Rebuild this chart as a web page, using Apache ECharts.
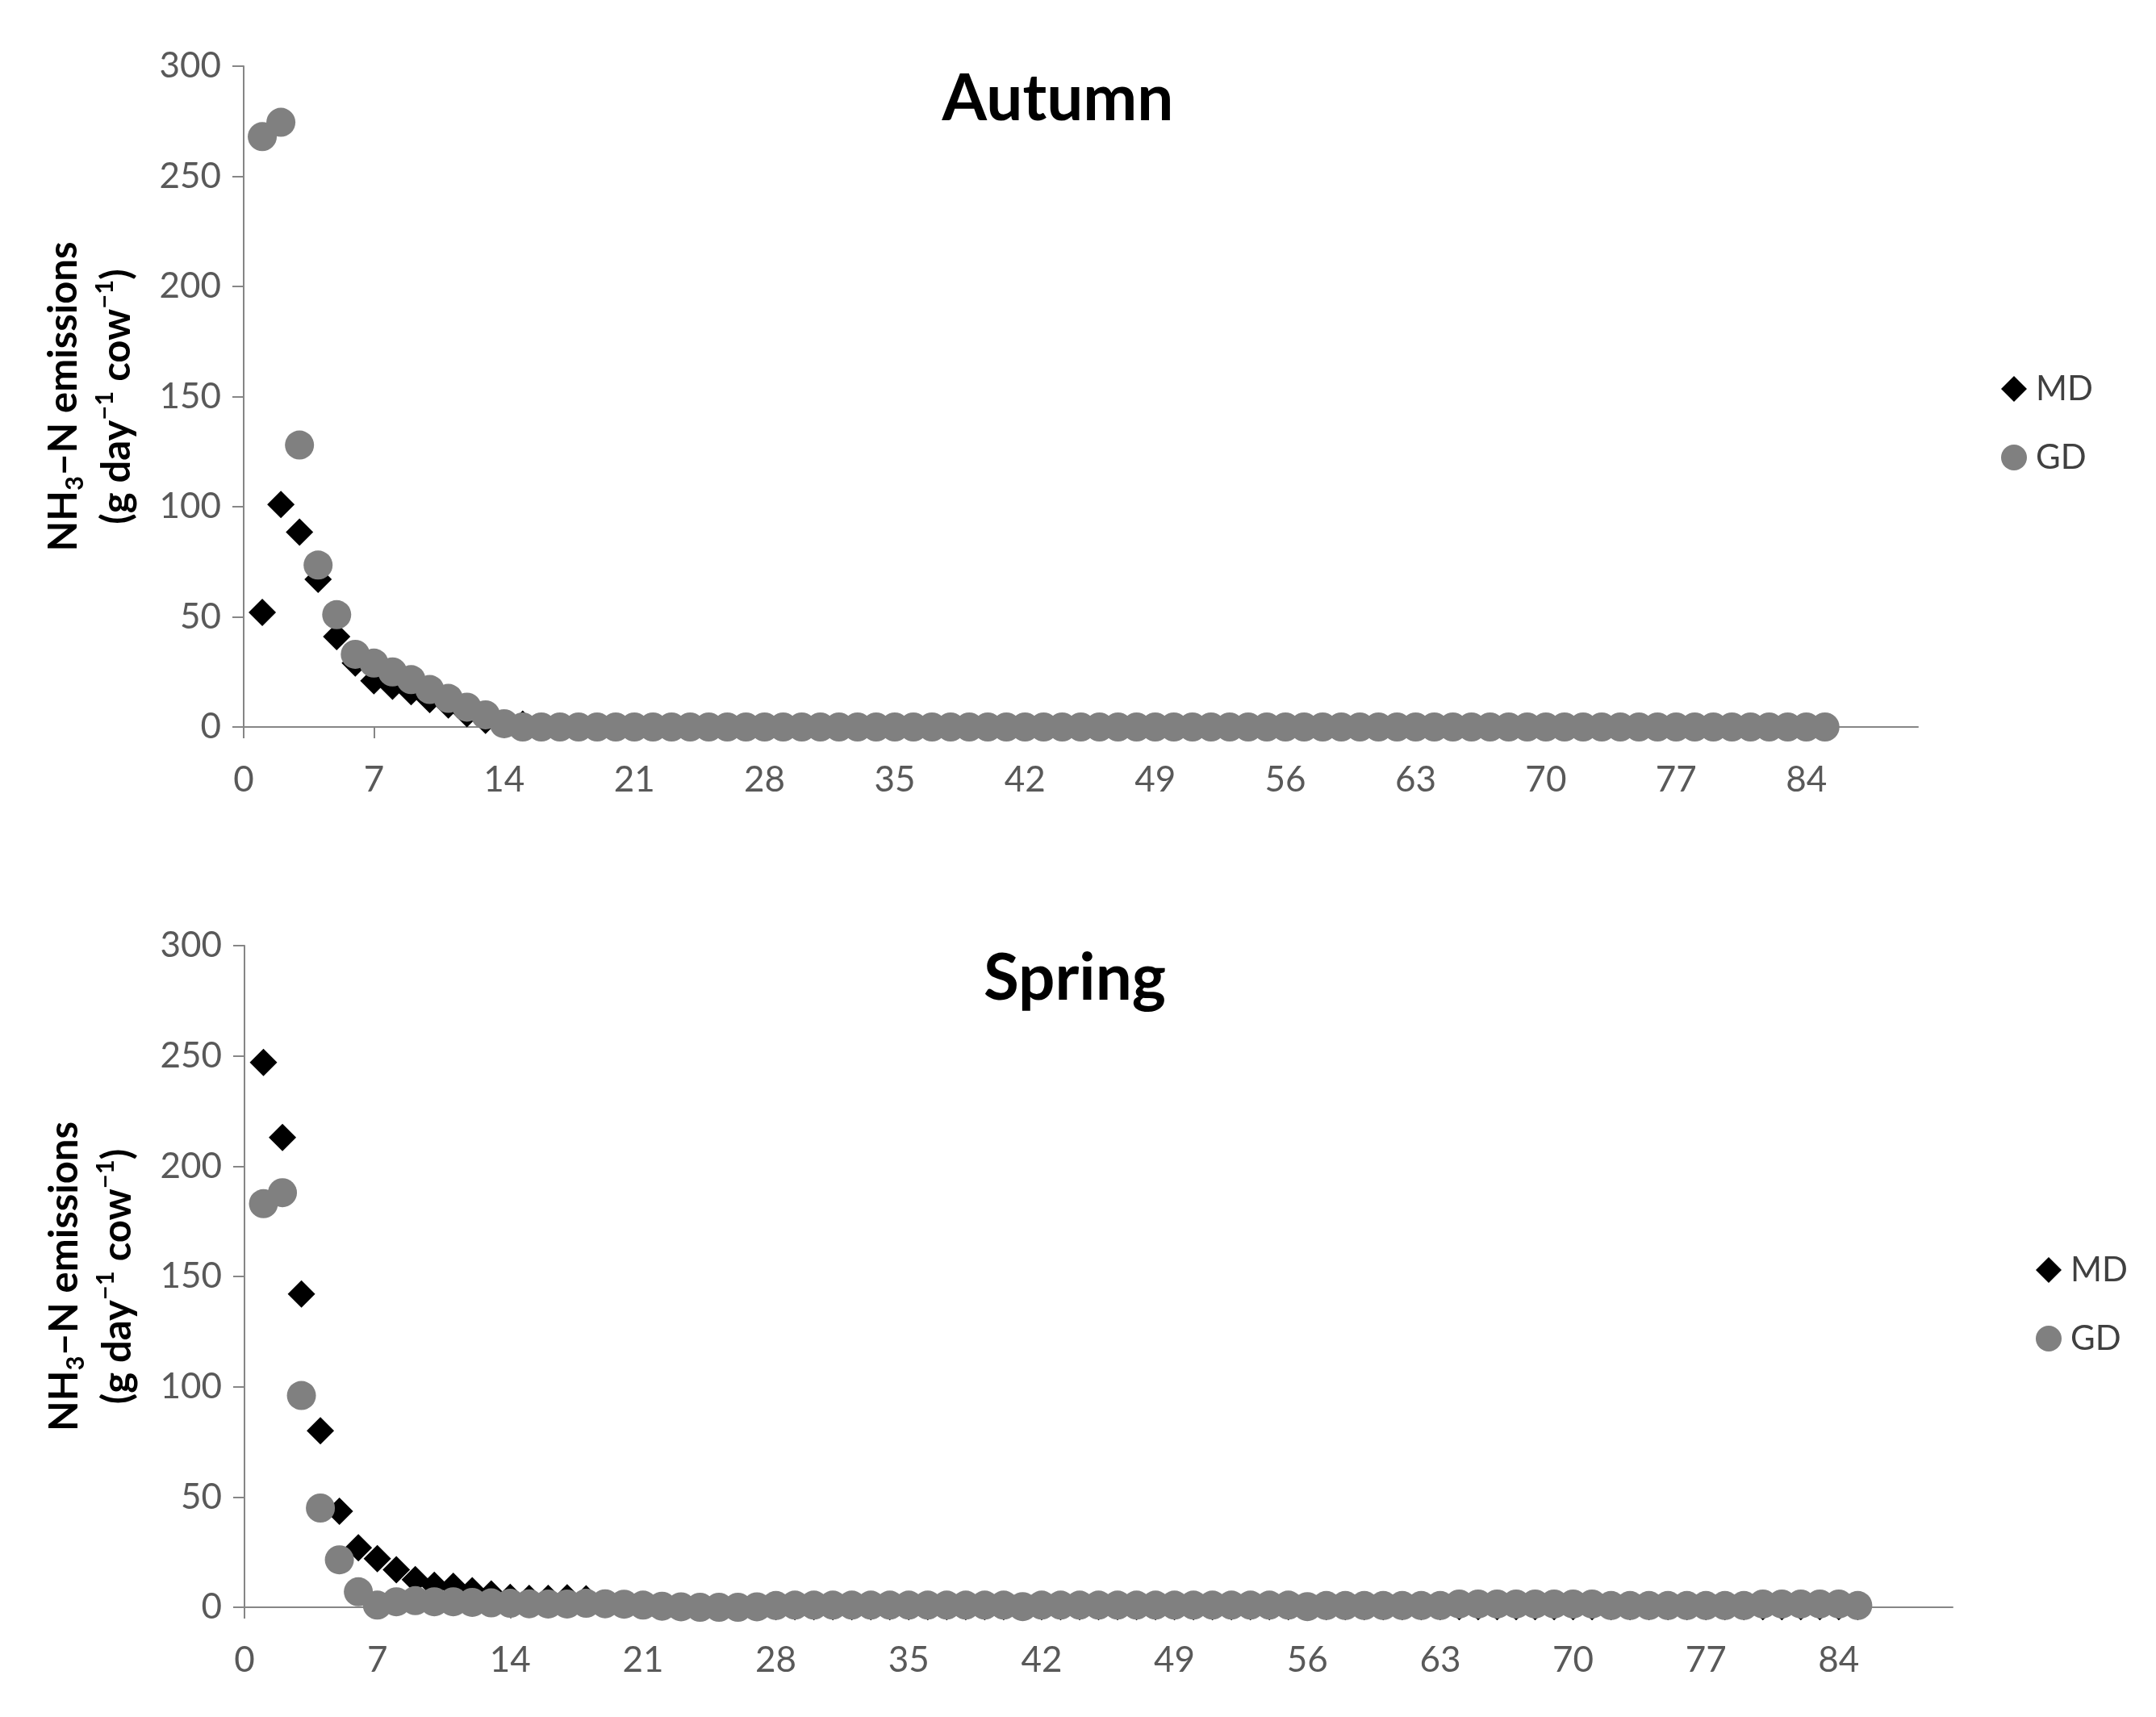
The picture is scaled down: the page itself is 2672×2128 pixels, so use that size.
<!DOCTYPE html>
<html>
<head>
<meta charset="utf-8">
<script src="https://cdn.jsdelivr.net/npm/echarts@6/dist/echarts.min.js"></script>
<style>
html,body{margin:0;padding:0;background:#fff;}
#chart{width:2672px;height:2128px;}
</style>
</head>
<body>
<div id="chart"></div>
<script>
// Day numbers (x)
const days = [
  1,2,3,4,5,6,7,8,9,10,
  11,12,13,14,15,16,17,18,19,20,
  21,22,23,24,25,26,27,28,29,30,
  31,32,33,34,35,36,37,38,39,40,
  41,42,43,44,45,46,47,48,49,50,
  51,52,53,54,55,56,57,58,59,60,
  61,62,63,64,65,66,67,68,69,70,
  71,72,73,74,75,76,77,78,79,80,
  81,82,83,84,85
];
const xTicks = [0,7,14,21,28,35,42,49,56,63,70,77,84];
const yTicks = [0,50,100,150,200,250,300];
const seriesNames = ['MD','GD'];
const panelTitles = ['Autumn','Spring'];

const autumnMD = [
  52,101,88.5,67,41,29,21,18.5,16,12.5,
  10,6,3,1.5,1.3,0,0,0,0,0,
  0,0,0,0,0,0,0,0,0,0,
  0,0,0,0,0,0,0,0,0,0,
  0,0,0,0,0,0,0,0,0,0,
  0,0,0,0,0,0,0,0,0,0,
  0,0,0,0,0,0,0,0,0,0,
  0,0,0,0,0,0,0,0,0,0,
  0,0,0,0,0
];
const autumnGD = [
  268,274.5,128,73.5,51,33,29,25,21.5,17,
  13,9,5.5,1.5,0,0,0,0,0,0,
  0,0,0,0,0,0,0,0,0,0,
  0,0,0,0,0,0,0,0,0,0,
  0,0,0,0,0,0,0,0,0,0,
  0,0,0,0,0,0,0,0,0,0,
  0,0,0,0,0,0,0,0,0,0,
  0,0,0,0,0,0,0,0,0,0,
  0,0,0,0,0
];
const springMD = [
  247,213,142,80,43.5,27,22,17,12.5,10,
  9.5,7.5,6,4.5,4,4,4.3,3.8,1.8,1.5,
  1.2,0.7,0.5,0.3,0.3,0.3,0.3,0.3,0.3,0.3,
  0.3,0.3,0.3,0.3,0.3,0.3,0.3,0.3,0.3,0.3,
  0.3,0.3,0.3,0.3,0.3,0.3,0.3,0.3,0.3,0.3,
  0.3,0.3,0.3,0.3,0.3,0.3,0.3,0.3,0.3,0.3,
  0.3,0.3,0.3,0.3,0.3,0.3,0.3,0.3,0.3,0.3,
  0.3,0.3,0.3,0.3,0.3,0.3,0.3,0.3,0.3,0.3,
  0.3,0.3,0.3,0.3,0.3
];
const springGD = [
  183,188,96,45,21.5,7,1,2.5,3,2.5,
  2.5,2.2,2,1.8,1.6,1.5,1.5,1.8,1.6,1.4,
  1,0.5,0.2,0,0,0,0.2,0.8,1,1,
  1,1,1,1,1,1,1,1,1,1,
  0.3,1,1,1,1,1,1,1,1,1,
  1,1,1,1,1,0.3,0.8,0.8,0.8,0.8,
  0.8,0.8,0.8,1.5,1.5,1.5,1.5,1.5,1.5,1.5,
  1.5,0.8,0.8,0.8,0.8,0.8,0.8,0.8,0.8,1.5,
  1.5,1.5,1.5,1.5,0.8
];

const FONT = 'Lato, "Open Sans", sans-serif';
const AXIS_COLOR = '#868686';
const LABEL_COLOR = '#595959';

function pairs(vals){ return days.map((d,i)=>[d, vals[i]]); }

const yName = '{b|NH}{sub|3}{b|\u2013N emissions}\n{b|(g day}{sup|\u22121}{b| cow}{sup|\u22121}{b|)}';
const nameRich = {
  b:{fontFamily:FONT,fontWeight:'bold',fontSize:49,color:'#000',lineHeight:66},
  sub:{fontFamily:FONT,fontWeight:'bold',fontSize:31,color:'#000',verticalAlign:'bottom',padding:[0,0,4,0]},
  sup:{fontFamily:FONT,fontWeight:'bold',fontSize:31,color:'#000',verticalAlign:'top',padding:[2,0,0,0]}
};

function xAxis(gi){
  return {
    type:'value', gridIndex:gi, min:0, max:90, interval:7,
    axisLine:{show:true,onZero:false,lineStyle:{color:AXIS_COLOR,width:2}},
    axisTick:{show:true,length:14,inside:false,lineStyle:{color:AXIS_COLOR,width:2},customValues:xTicks},
    axisLabel:{show:true,margin:44,fontFamily:FONT,fontSize:44,color:LABEL_COLOR,customValues:xTicks},
    splitLine:{show:false}
  };
}
function yAxis(gi){
  return {
    type:'value', gridIndex:gi, min:0, max:300, interval:50,
    name:yName, nameLocation:'middle', nameRotate:90, nameGap:124,
    nameTextStyle:{fontFamily:FONT,fontWeight:'bold',fontSize:49,color:'#000',lineHeight:66,rich:nameRich},
    axisLine:{show:true,onZero:false,lineStyle:{color:AXIS_COLOR,width:2}},
    axisTick:{show:true,length:14,inside:false,lineStyle:{color:AXIS_COLOR,width:2},customValues:yTicks},
    axisLabel:{show:true,margin:28,fontFamily:FONT,fontSize:44,color:LABEL_COLOR,customValues:yTicks},
    splitLine:{show:false}
  };
}
function mdSeries(gi, vals){
  return {name:seriesNames[0],type:'scatter',xAxisIndex:gi,yAxisIndex:gi,data:pairs(vals),
    symbol:'diamond',symbolSize:34,itemStyle:{color:'#000',opacity:1},z:2};
}
function gdSeries(gi, vals){
  return {name:seriesNames[1],type:'scatter',xAxisIndex:gi,yAxisIndex:gi,data:pairs(vals),
    symbol:'circle',symbolSize:36,itemStyle:{color:'#808080',opacity:1},z:3};
}
function legend(left, top){
  return {orient:'vertical',left:left,top:top,itemWidth:32,itemHeight:32,itemGap:43,
    data:seriesNames, selectedMode:false,
    textStyle:{fontFamily:FONT,fontSize:42,color:'#404040',padding:[0,0,0,6]}};
}

const chart = echarts.init(document.getElementById('chart'), null, {renderer:'canvas'});
chart.setOption({
  backgroundColor:'#fff',
  animation:false,
  title:[
    {text:panelTitles[0],left:1306,top:78,textAlign:'center',textStyle:{fontFamily:FONT,fontWeight:'bold',fontSize:80,color:'#000'}},
    {text:panelTitles[1],left:1327,top:1168,textAlign:'center',textStyle:{fontFamily:FONT,fontWeight:'bold',fontSize:80,color:'#000'}}
  ],
  legend:[legend(2475,456), legend(2518,1548)],
  grid:[
    {left:302,top:82,width:2075,height:819},
    {left:303,top:1172,width:2117,height:820}
  ],
  xAxis:[xAxis(0),xAxis(1)],
  yAxis:[yAxis(0),yAxis(1)],
  series:[mdSeries(0,autumnMD),gdSeries(0,autumnGD),mdSeries(1,springMD),gdSeries(1,springGD)]
});
</script>
</body>
</html>
